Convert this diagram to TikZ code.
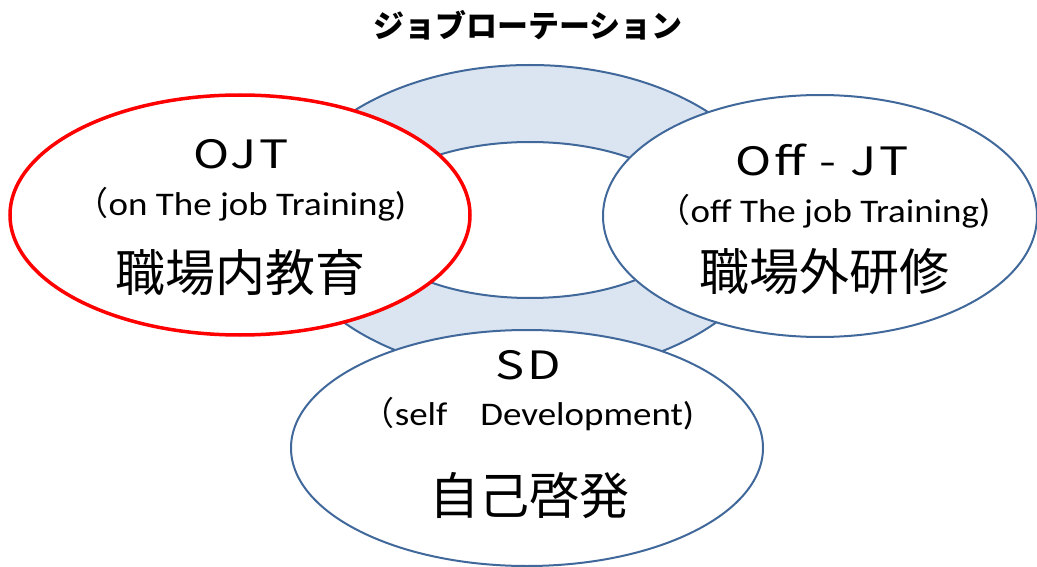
\documentclass[tikz,border=0pt]{standalone}
\usepackage{fontspec}
\usetikzlibrary{shapes.geometric}
\newfontfamily\jp{Noto Sans CJK JP}
\newfontfamily\lat[FakeStretch=1.12]{Carlito}
\newfontfamily\wide[FakeStretch=1.25,LetterSpace=7]{Noto Sans CJK JP}
\definecolor{ringfill}{HTML}{DBE5F1}
\definecolor{ringline}{HTML}{41689B}
\tikzset{
  bluering/.style={draw=ringline, line width=2pt},
  bubble/.style={ellipse, fill=white, inner sep=0pt, line width=2pt, draw=ringline},
  redbubble/.style={bubble, draw=red, line width=3.5pt},
  head/.style={inner sep=0pt, font=\wide\fontsize{39}{40}\selectfont},
  sub/.style={inner sep=0pt, font=\lat\fontsize{33}{35}\selectfont},
  kanji/.style={inner sep=0pt, font=\jp\fontsize{50}{52}\selectfont},
}
\begin{document}
\begin{tikzpicture}[x=1pt,y=-1pt]
\useasboundingbox (0,0) rectangle (1037,567);
\fill[white] (0,0) rectangle (1037,567);
% ring
\path[fill=ringfill, even odd rule] (530,220) ellipse [x radius=248, y radius=155]
      (530,220) ellipse [x radius=165, y radius=78];
\draw[bluering] (530,220) ellipse [x radius=248, y radius=155];
\draw[bluering] (530,220) ellipse [x radius=165, y radius=78];
% bubbles
\node[redbubble, minimum width=460pt, minimum height=240pt] (ojt) at (240,215) {};
\node[bubble, minimum width=434pt, minimum height=242pt] (off) at (820,216) {};
\node[bubble, minimum width=472pt, minimum height=236pt] (sd) at (527,448) {};
% title
\node[inner sep=0pt, font=\jp\bfseries\fontsize{31}{33}\selectfont] (title) at (528,25) {ジョブローテーション};
% OJT texts
\node[head] (ojt1) at (241,154) {OJT};
\node[sub] (ojt2) at (241,204) {{\jp （}on The job Training)};
\node[kanji] (ojt3) at (240,273) {職場内教育};
% Off-JT texts
\node[head] (off1) at (822,160) {Off - JT};
\node[sub] (off2) at (824,211) {{\jp （}off The job Training)};
\node[kanji] (off3) at (824,272) {職場外研修};
% SD texts
\node[head] (sd1) at (528,365) {SD};
\node[sub] (sd2) at (528,414) {{\jp （}self{\jp 　}Development)};
\node[kanji] (sd3) at (529,496) {自己啓発};
\end{tikzpicture}
\end{document}
